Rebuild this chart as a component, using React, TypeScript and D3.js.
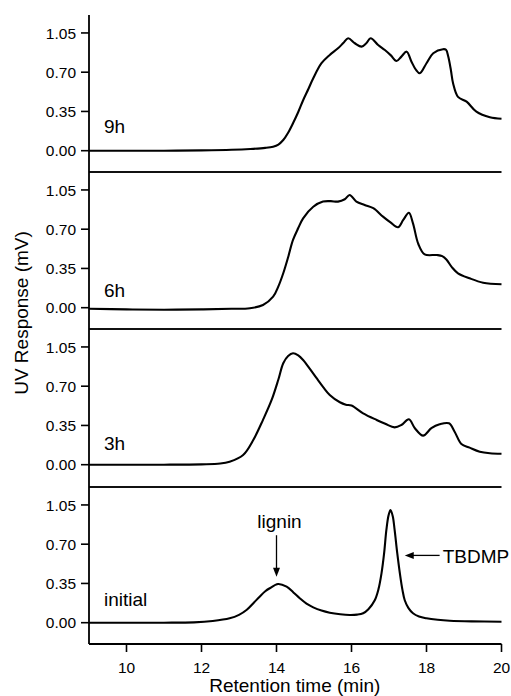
import React from "react";
import * as d3 from "d3";

// ---- data ----
const panelLabels = ["9h", "6h", "3h", "initial"];

const t9h = [9, 10, 11, 12, 12.8, 13.3, 13.7, 13.91, 14.05, 14.18, 14.31, 14.44, 14.58, 14.71, 14.85, 14.98, 15.2, 15.42, 15.64, 15.78, 15.91, 16.09, 16.27, 16.4, 16.51, 16.71, 16.89, 17.05, 17.2, 17.33, 17.47, 17.6, 17.72, 17.82, 18.0, 18.18, 18.44, 18.52, 18.58, 18.65, 18.71, 18.84, 19.07, 19.33, 19.69, 20];
const v9h = [0, 0, 0, 0.003, 0.008, 0.015, 0.025, 0.036, 0.055, 0.095, 0.16, 0.244, 0.345, 0.45, 0.55, 0.646, 0.78, 0.854, 0.913, 0.96, 1.003, 0.958, 0.928, 0.96, 1.003, 0.943, 0.898, 0.85, 0.8, 0.839, 0.883, 0.794, 0.72, 0.69, 0.78, 0.869, 0.905, 0.9, 0.839, 0.72, 0.6, 0.48, 0.437, 0.348, 0.298, 0.285];

const t6h = [9, 10, 11, 12, 12.8, 13.29, 13.64, 13.91, 14.05, 14.18, 14.31, 14.44, 14.58, 14.71, 14.98, 15.24, 15.45, 15.64, 15.82, 15.95, 16.13, 16.35, 16.58, 16.84, 17.04, 17.24, 17.38, 17.53, 17.64, 17.78, 17.95, 18.27, 18.42, 18.53, 18.68, 18.84, 19.15, 19.51, 20];
const v6h = [-0.01, -0.015, -0.018, -0.015, -0.01, -0.005, 0.024, 0.098, 0.19, 0.307, 0.45, 0.604, 0.71, 0.797, 0.9, 0.946, 0.95, 0.946, 0.967, 1.005, 0.946, 0.916, 0.887, 0.812, 0.76, 0.717, 0.782, 0.847, 0.752, 0.57, 0.476, 0.47, 0.46, 0.43, 0.36, 0.307, 0.262, 0.223, 0.209];

const t3h = [9, 10, 11, 12, 12.5, 12.75, 13.11, 13.38, 13.64, 13.87, 14.05, 14.18, 14.31, 14.44, 14.58, 14.71, 14.9, 15.07, 15.25, 15.42, 15.69, 15.85, 16.0, 16.31, 16.67, 16.9, 17.15, 17.33, 17.53, 17.69, 17.91, 18.13, 18.35, 18.6, 18.75, 18.93, 19.15, 19.42, 19.69, 20];
const v3h = [0, 0, 0, 0.003, 0.01, 0.027, 0.087, 0.22, 0.4, 0.577, 0.76, 0.905, 0.97, 0.994, 0.975, 0.934, 0.85, 0.771, 0.69, 0.622, 0.557, 0.535, 0.527, 0.458, 0.399, 0.365, 0.333, 0.354, 0.405, 0.325, 0.259, 0.325, 0.36, 0.369, 0.294, 0.185, 0.152, 0.116, 0.102, 0.098];

const tInit = [9, 10, 11, 11.8, 12.3, 12.75, 13.0, 13.2, 13.4, 13.55, 13.7, 13.82, 14.04, 14.27, 14.45, 14.62, 14.8, 14.98, 15.2, 15.42, 15.7, 15.95, 16.15, 16.31, 16.45, 16.62, 16.72, 16.8, 16.87, 16.93, 16.99, 17.04, 17.1, 17.15, 17.22, 17.29, 17.36, 17.42, 17.52, 17.64, 17.8, 18.0, 18.3, 18.62, 19.2, 20];
const vInit = [0, 0, 0, 0.003, 0.015, 0.039, 0.07, 0.113, 0.18, 0.232, 0.28, 0.307, 0.345, 0.321, 0.27, 0.218, 0.17, 0.137, 0.108, 0.089, 0.075, 0.069, 0.072, 0.084, 0.12, 0.2, 0.3, 0.44, 0.62, 0.827, 0.96, 1.005, 0.95, 0.827, 0.62, 0.44, 0.29, 0.2, 0.13, 0.084, 0.055, 0.039, 0.026, 0.018, 0.012, 0.009];

const seriesTimes = [t9h, t6h, t3h, tInit];
const seriesValues = [v9h, v6h, v3h, vInit];

const yTicks = [0, 0.35, 0.7, 1.05];
const xTicks = [10, 12, 14, 16, 18, 20];

// ---- layout ----
const W = 511;
const H = 696;
const left = 89;
const right = 501.5;
const panelTops = [15, 172, 329, 487];
const panelH = 157;
const labelBaselines = [133, 296.5, 450, 606];
const FONT = "'Liberation Sans', Arial, Helvetica, sans-serif";

export default function App() {
  const x = d3.scaleLinear().domain([9, 20]).range([left, right]);
  const yScales = panelTops.map((top) =>
    d3.scaleLinear().domain([-0.19, 1.21]).range([top + panelH, top])
  );
  const bottom = panelTops[3] + panelH;

  const arrowHead = (tipX: number, tipY: number, dir: "down" | "left") => {
    const L = 9, hw = 3.5;
    const pts =
      dir === "down"
        ? [[tipX, tipY], [tipX - hw, tipY - L], [tipX + hw, tipY - L]]
        : [[tipX, tipY], [tipX + L, tipY - hw], [tipX + L, tipY + hw]];
    return <polygon points={pts.map((p) => p.join(",")).join(" ")} fill="#000" />;
  };

  const yI = yScales[3];

  return (
    <svg
      width={W}
      height={H}
      style={{ position: "absolute", left: 0, top: 0, background: "#fff" }}
      fontFamily={FONT}
    >
      {panelTops.map((top, i) => {
        const y = yScales[i];
        const line = d3
          .line<number>()
          .x((_, k) => x(seriesTimes[i][k]))
          .y((d) => y(d))
          .curve(d3.curveCatmullRom.alpha(0.5));
        return (
          <g key={i}>
            {yTicks.map((tv) => (
              <g key={tv}>
                <line x1={left - 8} x2={left} y1={y(tv)} y2={y(tv)} stroke="#000" strokeWidth={1.6} />
                <text x={left - 13} y={y(tv)} dy="0.36em" textAnchor="end" fontSize={15.5} fill="#000">
                  {tv.toFixed(2)}
                </text>
              </g>
            ))}
            <path d={line(seriesValues[i]) || ""} fill="none" stroke="#000" strokeWidth={2.1} strokeLinejoin="round" />
            <text x={x(9.4)} y={labelBaselines[i]} fontSize={19} fill="#000">
              {panelLabels[i]}
            </text>
            {i > 0 && (
              <line x1={left} x2={right} y1={top} y2={top} stroke="#111" strokeWidth={1.8} />
            )}
          </g>
        );
      })}

      {/* y axis line */}
      <line x1={left} x2={left} y1={panelTops[0]} y2={bottom} stroke="#000" strokeWidth={1.8} />
      {/* x axis */}
      <line x1={left} x2={right} y1={bottom} y2={bottom} stroke="#000" strokeWidth={1.8} />
      {xTicks.map((tv) => (
        <g key={tv}>
          <line x1={x(tv)} x2={x(tv)} y1={bottom} y2={bottom + 8} stroke="#000" strokeWidth={1.6} />
          <text x={x(tv)} y={673} textAnchor="middle" fontSize={15.5} fill="#000">
            {tv}
          </text>
        </g>
      ))}
      <text x={(left + right) / 2 - 0.5} y={692} textAnchor="middle" fontSize={19} fill="#000">
        Retention time (min)
      </text>
      <text
        transform={`translate(28,313) rotate(-90)`}
        textAnchor="middle"
        fontSize={19}
        fill="#000"
      >
        UV Response (mV)
      </text>

      {/* annotations */}
      <text x={x(14.08)} y={yI(0.84)} textAnchor="middle" fontSize={19} fill="#000">
        lignin
      </text>
      <line x1={x(14)} x2={x(14)} y1={yI(0.78)} y2={yI(0.41) - 8} stroke="#000" strokeWidth={1.3} />
      {arrowHead(x(14), yI(0.41), "down")}

      <line x1={x(17.42) + 8} x2={x(18.35)} y1={yI(0.6)} y2={yI(0.6)} stroke="#000" strokeWidth={1.3} />
      {arrowHead(x(17.42), yI(0.6), "left")}
      <text x={x(18.43)} y={yI(0.53)} fontSize={19} fill="#000">
        TBDMP
      </text>
    </svg>
  );
}
